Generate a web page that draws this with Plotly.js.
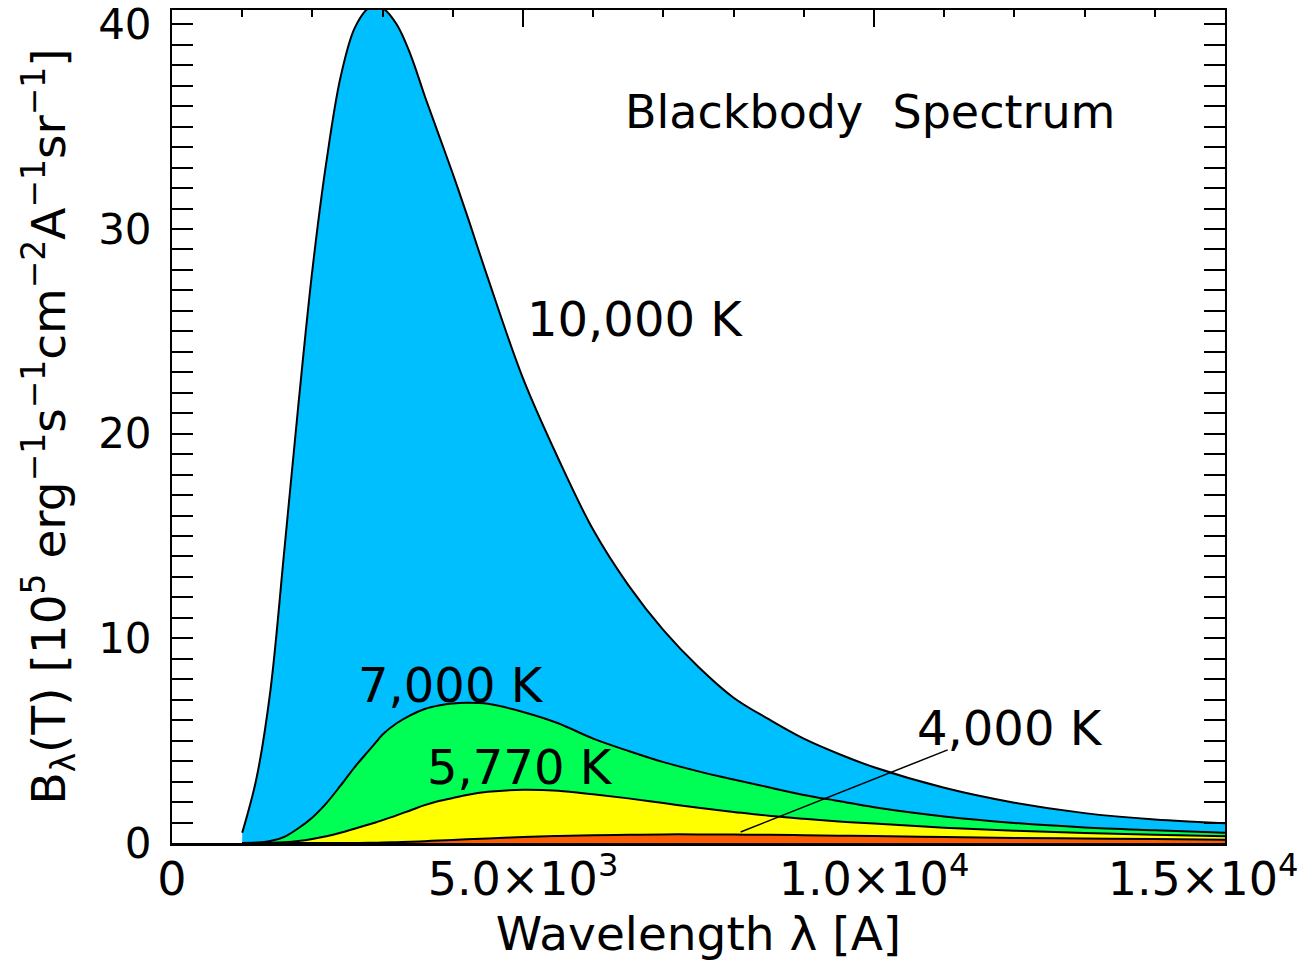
<!DOCTYPE html>
<html>
<head>
<meta charset="utf-8">
<script src="https://cdn.plot.ly/plotly-3.0.1.min.js"></script>
<style>html,body{margin:0;padding:0;background:#fff;}</style>
</head>
<body>
<div id="chart" style="width:1307px;height:973px;"></div>
<script>
// Wavelength grid (Angstrom)
const wavelength = [1000,1200,1400,1600,1800,2000,2200,2400,2600,2800,2900,3000,3200,3400,3600,3800,4000,4200,4500,5000,5500,6000,6500,7000,7500,8000,8500,9000,9500,10000,11000,12000,13000,14000,15000];
// B_lambda(T) in 10^5 erg s^-1 cm^-2 A^-1 sr^-1
const b10000 = [0.5,3.1,7.4,14.3,21.4,28.0,33.3,37.4,39.8,40.8,40.9,40.8,40.0,38.5,36.5,34.6,32.7,30.7,27.6,22.7,18.8,15.3,12.6,10.4,8.6,7.1,6.05,5.1,4.35,3.7,2.7,1.97,1.46,1.15,0.97];
const b7000  = [0,0.02,0.1,0.3,0.72,1.25,1.95,2.8,3.7,4.5,4.9,5.3,5.85,6.25,6.55,6.72,6.82,6.85,6.8,6.4,5.85,5.1,4.5,3.95,3.5,3.1,2.72,2.35,2.05,1.75,1.3,0.98,0.76,0.62,0.5];
const b5770  = [0,0,0.01,0.04,0.1,0.2,0.33,0.5,0.7,0.9,1.0,1.12,1.35,1.6,1.85,2.05,2.2,2.35,2.5,2.6,2.55,2.38,2.18,1.95,1.72,1.52,1.33,1.18,1.05,0.95,0.75,0.6,0.49,0.4,0.33];
const b4000  = [0,0,0,0,0,0,0,0,0,0.01,0.015,0.02,0.04,0.06,0.09,0.12,0.15,0.18,0.22,0.29,0.34,0.38,0.40,0.42,0.42,0.41,0.40,0.38,0.36,0.34,0.29,0.25,0.22,0.19,0.16];
// pointer from the 4,000 K label to its curve
const pointerX = [8100, 11050];
const pointerY = [0.54, 4.55];
// labels
const curveLabels = ['10,000 K', '7,000 K', '5,770 K', '4,000 K'];
const chartTitle = 'Blackbody  Spectrum';
const xTickVals = [0, 5000, 10000, 15000];
const xTickText = ['0', '5.0×10<sup>3</sup>', '1.0×10<sup>4</sup>', '1.5×10<sup>4</sup>\u00a0\u00a0\u00a0'];
const yTickVals = [0, 10, 20, 30, 40];
const yTickText = ['0', '10', '20', '30', '40'];

const FONT = 'DejaVu Sans, Liberation Sans, sans-serif';
const fills = ['#00BFFF', '#00FF55', '#FFFF00', '#FF5A00'];
const series = [b10000, b7000, b5770, b4000];

const traces = series.map((ys, i) => ({
  x: wavelength, y: ys, type: 'scatter', mode: 'lines',
  fill: 'tozeroy', fillcolor: fills[i],
  line: {color: 'black', width: 2, shape: 'spline', smoothing: 1},
  hoverinfo: 'skip'
}));
traces.push({x: pointerX, y: pointerY, type: 'scatter', mode: 'lines',
  line: {color: 'black', width: 1.5}, hoverinfo: 'skip'});
traces.push({x: [], y: [], xaxis: 'x2', type: 'scatter', mode: 'lines', hoverinfo: 'skip'});

const annPos = [[6595, 25.6], [3974, 7.7], [4957, 3.7], [11937, 5.6]];
const annotations = curveLabels.map((t, i) => ({
  text: t, x: annPos[i][0], y: annPos[i][1], xref: 'x', yref: 'y',
  showarrow: false, font: {family: FONT, size: 48, color: 'black'}
}));
annotations.push({text: chartTitle, x: 9943, y: 35.7, xref: 'x', yref: 'y',
  showarrow: false, font: {family: FONT, size: 46, color: 'black'}});

const layout = {
  width: 1307, height: 973,
  margin: {l: 172, r: 82, t: 10, b: 130},
  paper_bgcolor: 'white', plot_bgcolor: 'white',
  showlegend: false,
  xaxis: {
    range: [0, 15000], tickvals: xTickVals, ticktext: xTickText,
    ticks: '', showline: true, linecolor: 'black', linewidth: 3,
    showgrid: false, zeroline: false, ticklabeloverflow: 'allow',
    ticklabelstandoff: -6,
    tickfont: {family: FONT, size: 46, color: 'black'},
    title: {text: 'Wavelength λ [A]', font: {family: FONT, size: 47, color: 'black'}, standoff: 9}
  },
  xaxis2: {
    overlaying: 'x', side: 'top', matches: 'x', range: [0, 15000],
    showticklabels: false, showgrid: false, zeroline: false,
    showline: true, linecolor: 'black', linewidth: 2,
    ticks: 'inside', tickvals: [5000, 10000], ticklen: 17, tickwidth: 2, tickcolor: 'black',
    minor: {dtick: 1000, tick0: 0, ticks: 'inside', ticklen: 7, tickwidth: 2, tickcolor: 'black'}
  },
  yaxis: {
    range: [0, 40.7], tickvals: yTickVals, ticktext: yTickText,
    ticks: 'inside', ticklen: 21, tickwidth: 2, tickcolor: 'black',
    showline: true, linecolor: 'black', linewidth: 2, mirror: 'allticks',
    showgrid: false, zeroline: false, ticklabeloverflow: 'allow',
    minor: {dtick: 1, tick0: 0, ticks: 'inside', ticklen: 8, tickwidth: 2, tickcolor: 'black'},
    tickfont: {family: FONT, size: 42, color: 'black'},
    ticklabelstandoff: 10,
    title: {text: 'B<sub>λ</sub>(T) [10<sup>5</sup> erg<sup>−1</sup>s<sup>−1</sup>cm<sup>−2</sup>A<sup>−1</sup>sr<sup>−1</sup>]',
            font: {family: FONT, size: 47, color: 'black'}, standoff: 18}
  },
  annotations: annotations
};

Plotly.newPlot('chart', traces, layout, {staticPlot: true, displayModeBar: false});
</script>
</body>
</html>
